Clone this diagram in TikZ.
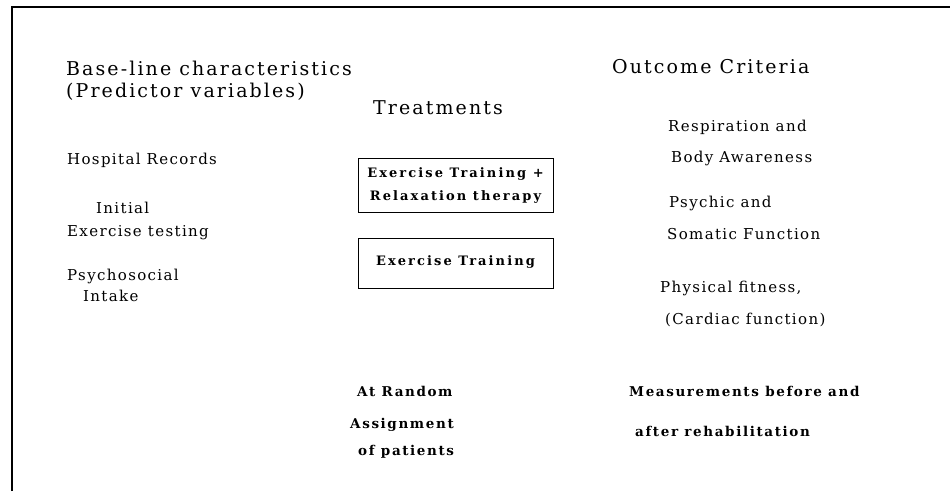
\documentclass[tikz,border=0pt]{standalone}
\usepackage{fontspec}
\setmainfont{DejaVu Serif}
\begin{document}
\begin{tikzpicture}[x=1pt,y=-1pt,
  head/.style={anchor=west,inner sep=0pt,font=\fontsize{19}{22}\selectfont\addfontfeature{LetterSpace=11}},
  item/.style={anchor=west,inner sep=0pt,font=\fontsize{15}{18}\selectfont\addfontfeature{LetterSpace=9}},
  note/.style={anchor=west,inner sep=0pt,font=\bfseries\fontsize{13.5}{16}\selectfont\addfontfeature{LetterSpace=12}},
  treatbox/.style={draw,line width=1pt,minimum width=195pt,inner sep=0pt,align=center,
    font=\bfseries\fontsize{13}{23}\selectfont\addfontfeature{LetterSpace=16}}]
\useasboundingbox (0,0) rectangle (950,491);
% frame (top and left rules)
\coordinate (fb) at (12,491);
\coordinate (fc) at (12,7);
\coordinate (fr) at (950,7);
\draw[line width=1.8pt] (fb) -- (fc) -- (fr);

% column headings
\node[head] (base) at (66,68) {Base-line characteristics};
\node[head] (pred) at (66,92) {(Predictor variables)};
\node[head] (treat) at (373,108) {Treatments};
\node[head] (outc) at (612,67) {Outcome Criteria};

% predictor variables
\node[item] (hosp) at (67,160) {Hospital Records};
\node[item] (init) at (96,208) {Initial};
\node[item] (extest) at (67,233) {Exercise testing};
\node[item] (psy) at (67,276) {Psychosocial};
\node[item] (intake) at (83,296) {Intake};

% treatment groups
\node[treatbox,minimum height=54pt] (grpA) at (455.5,185) {Exercise Training +\\Relaxation therapy};
\node[treatbox,minimum height=50pt] (grpB) at (455.5,263) {\raisebox{5pt}{Exercise Training}};

% outcome criteria
\node[item] (resp) at (668,127) {Respiration and};
\node[item] (body) at (671,158) {Body Awareness};
\node[item] (psych) at (669,203) {Psychic and};
\node[item] (soma) at (667,234) {Somatic Function};
\node[item] (phys) at (660,288) {Physical fitness,};
\node[item] (card) at (665,320) {(Cardiac function)};

% notes at the bottom
\node[note] (rand) at (357,391) {At Random};
\node[note] (assign) at (350,425) {Assignment};
\node[note] (pat) at (358,452) {of patients};
\node[note] (meas) at (629,391) {Measurements before and};
\node[note] (after) at (635,431) {after rehabilitation};
\end{tikzpicture}
\end{document}
